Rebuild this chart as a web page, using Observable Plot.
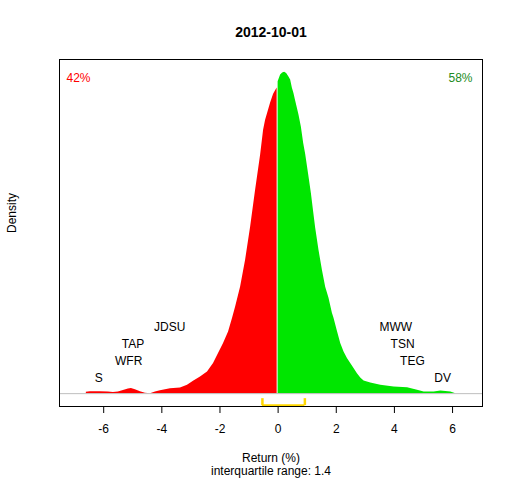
<!DOCTYPE html>
<html>
<head>
<meta charset="utf-8">
<script src="https://cdn.jsdelivr.net/npm/d3@7"></script>
<script src="https://cdn.jsdelivr.net/npm/@observablehq/plot@0.6"></script>
<style>
  html, body { margin: 0; padding: 0; background: #fff; }
  #chart { width: 512px; height: 480px; }
</style>
</head>
<body>
<div id="chart"></div>
<script>
// ---- data ----
const title = "2012-10-01";
const downShare = "42%";
const upShare = "58%";
const iqrText = "interquartile range: 1.4";
const xLabel = "Return (%)";
const yLabel = "Density";
const xTicks = [-6, -4, -2, 0, 2, 4, 6];
const xDomain = [-7.52, 7.03];

// density curve, negative returns (red)
const leftReturn  = [-6.597, -6.459, -6.115, -5.839, -5.667, -5.495, -5.322, -5.150, -5.047, -4.909, -4.737, -4.564, -4.392, -4.220, -4.048, -3.703, -3.359, -3.117, -2.911, -2.670, -2.429, -2.222, -2.050, -1.877, -1.705, -1.567, -1.464, -1.292, -1.119, -0.947, -0.775, -0.603, -0.500, -0.431, -0.258, -0.155, -0.034];
const leftDensity = [0.0016, 0.0023, 0.0025, 0.0020, 0.0013, 0.0020, 0.0038, 0.0059, 0.0063, 0.0050, 0.0023, 0.0004, 0.0000, 0.0020, 0.0035, 0.0060, 0.0070, 0.0104, 0.0154, 0.0208, 0.0270, 0.0375, 0.0500, 0.0625, 0.0770, 0.0941, 0.1079, 0.1329, 0.1666, 0.2079, 0.2541, 0.2979, 0.3291, 0.3416, 0.3629, 0.3741, 0.3816];

// density curve, positive returns (green)
const rightReturn  = [0.000, 0.086, 0.155, 0.224, 0.293, 0.372, 0.431, 0.489, 0.544, 0.603, 0.717, 0.799, 0.878, 0.947, 1.061, 1.144, 1.223, 1.292, 1.405, 1.523, 1.636, 1.750, 1.867, 1.922, 2.039, 2.153, 2.267, 2.384, 2.497, 2.611, 2.728, 2.842, 2.956, 3.186, 3.531, 3.989, 4.451, 4.795, 5.022, 5.367, 5.598, 5.942, 6.114];
const rightDensity = [0.3895, 0.3979, 0.4004, 0.4013, 0.3998, 0.3954, 0.3916, 0.3816, 0.3750, 0.3654, 0.3479, 0.3329, 0.3129, 0.2991, 0.2708, 0.2500, 0.2266, 0.2066, 0.1791, 0.1541, 0.1329, 0.1191, 0.1004, 0.0941, 0.0779, 0.0625, 0.0520, 0.0438, 0.0375, 0.0313, 0.0250, 0.0195, 0.0158, 0.0133, 0.0104, 0.0083, 0.0075, 0.0041, 0.0020, 0.0020, 0.0033, 0.0020, 0.0000];

// extreme stocks
const lowNames   = ["S", "WFR", "TAP", "JDSU"];
const lowReturns = [-6.17, -5.14, -4.99, -3.73];
const lowLevels  = [1, 2, 3, 4];
const highNames   = ["MWW", "TSN", "TEG", "DV"];
const highReturns = [4.05, 4.28, 4.62, 5.66];
const highLevels  = [4, 3, 2, 1];

// quartiles of returns
const quartiles = [-0.54, 0.92];

// ---- build tables ----
const leftData  = leftReturn.map((x, i) => ({x, d: leftDensity[i]}));
const rightData = rightReturn.map((x, i) => ({x, d: rightDensity[i]}));
const names = [
  ...lowNames.map((n, i) => ({name: n, x: lowReturns[i], level: lowLevels[i]})),
  ...highNames.map((n, i) => ({name: n, x: highReturns[i], level: highLevels[i]}))
];

const W = 512, H = 480, mT = 59, mB = 74, mL = 59, mR = 30;
const dMax = d3.max([...leftDensity, ...rightDensity]);
const yLo = -0.04 * dMax, yHi = 1.04 * dMax;
const pxPerUnit = (H - mT - mB) / (yHi - yLo);
const levelY = lv => (15.3 + 17 * (lv - 1)) / pxPerUnit;

const font = "'Liberation Sans', Arial, Helvetica, sans-serif";
const mid = {lineAnchor: "middle"};

const chart = Plot.plot({
  width: W, height: H,
  marginTop: mT, marginBottom: mB, marginLeft: mL, marginRight: mR,
  style: {fontFamily: font, fontSize: "12px", background: "white", color: "black"},
  x: {domain: xDomain},
  y: {domain: [yLo, yHi], axis: null},
  marks: [
    Plot.areaY(leftData, {x: "x", y: "d", fill: "#ff0000", curve: "linear"}),
    Plot.areaY(rightData, {x: "x", y: "d", fill: "#00e600", curve: "linear"}),
    Plot.ruleY([0], {stroke: "#bebebe", strokeWidth: 1}),
    Plot.ruleX(quartiles, {y1: yLo * 0.39, y2: yLo * 0.93, stroke: "#ffd700", strokeWidth: 2.5}),
    Plot.ruleY([yLo * 0.93], {x1: quartiles[0], x2: quartiles[1], stroke: "#ffd700", strokeWidth: 2.5}),
    Plot.text(names, {x: "x", y: d => levelY(d.level), text: "name", fill: "black", fontSize: 12}),
    Plot.frame({stroke: "black"}),
    Plot.axisX({ticks: xTicks, tickSize: 7, tickPadding: 11, tickFormat: d => String(d), label: null, fontSize: 12}),
    Plot.text([title], {...mid, frameAnchor: "top", dy: -27, fontWeight: "bold", fontSize: 14, fill: "black"}),
    Plot.text([downShare], {...mid, frameAnchor: "top-left", dx: 7, dy: 19, textAnchor: "start", fill: "#ff0000", fontSize: 12}),
    Plot.text([upShare], {...mid, frameAnchor: "top-right", dx: -10, dy: 19, textAnchor: "end", fill: "#228b22", fontSize: 12}),
    Plot.text([xLabel], {...mid, frameAnchor: "bottom", dy: 52, fill: "black", fontSize: 12}),
    Plot.text([iqrText], {...mid, frameAnchor: "bottom", dy: 64.5, fill: "black", fontSize: 12}),
    Plot.text([yLabel], {...mid, frameAnchor: "left", dx: -47, rotate: -90, fill: "black", fontSize: 12})
  ]
});
document.getElementById("chart").appendChild(chart);
</script>
</body>
</html>
